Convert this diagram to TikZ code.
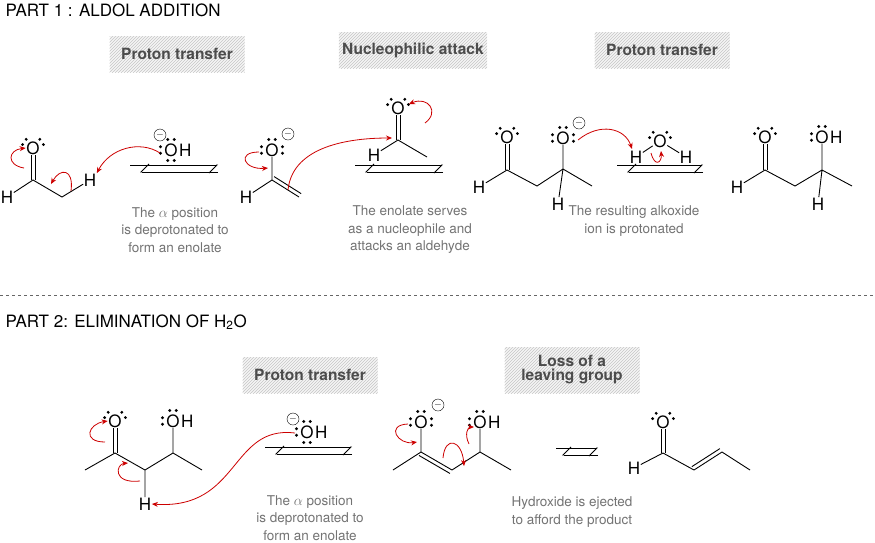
\documentclass[tikz,border=0pt]{standalone}
\usepackage{fontspec}
\setmainfont{TeX Gyre Heros}
\usetikzlibrary{arrows.meta,calc,patterns}
\tikzset{
    atom/.style={inner sep=0.5pt,font=\fontsize{17}{19}\selectfont},
    bond/.style={line width=0.9pt},
    mech/.style={->,>={Stealth[length=6pt,width=5pt]},red!80!black,line width=0.8pt},
    eqtop/.style={-{Straight Barb[right,length=8pt]},line width=0.9pt},
    minus/.style={circle,draw,inner sep=0pt,minimum size=12pt,font=\fontsize{10}{10}\selectfont},
    step label/.style={font=\bfseries\fontsize{15.5}{17}\selectfont,text=black!70,align=center,minimum width=135pt,minimum height=36pt,
        preaction={fill=gray!8},pattern=north east lines,pattern color=gray!45},
    note/.style={font=\fontsize{13.5}{17.5}\selectfont,text=black!55,align=center},
    title/.style={font=\fontsize{17}{19}\selectfont,anchor=west},
}
\newcommand\lp[2]{\fill ($(#1)+(#2+17:11)$) circle (1.6) ($(#1)+(#2-17:11)$) circle (1.6);}
\newcommand\dbond[3]{\draw[bond] (#1) -- (#2); \draw[bond] ($(#1)!#3!90:(#2)$) -- ($(#2)!#3!-90:(#1)$);}

\begin{document}
\begin{tikzpicture}[x=1pt,y=-1pt]
    \useasboundingbox (0,0) rectangle (875,542);
    % headings
    \node[title] (t1) at (2,10) {PART 1 : ALDOL ADDITION};
    \node[title] (t2) at (2,322) {PART 2: ELIMINATION OF H\textsubscript{2}O};
    \draw[dashed,line width=0.9pt,black!60] (0,295) -- (875,295);
    \node[step label] (s1) at (177,54) {Proton transfer};
    \node[step label] (s2) at (413,50) {Nucleophilic attack};
    \node[step label] (s3) at (662,50) {Proton transfer};
    \node[step label] (s4) at (310,375) {Proton transfer};
    \node[step label,minimum height=46pt] (s5) at (572,370) {Loss of a\\[-3pt]leaving group};

    % acetaldehyde
    \node[atom] (a1o) at (33,148) {O};
    \coordinate (a1c) at (33,180);
    \node[atom] (a1h) at (7,197) {H};
    \coordinate (a1m) at (62,197);
    \node[atom] (a1x) at (90,180) {H};
    \draw[bond] ($(a1o.south)+(-2,0)$) -- ($(a1c)+(-2,0)$) ($(a1o.south)+(2,0)$) -- ($(a1c)+(2,0)$);
    \draw[bond] (a1h) -- (a1c) -- (a1m) -- (a1x);
    \lp{a1o}{-145} \lp{a1o}{-35}
    \draw[mech] (24,168) .. controls (6,165) and (8,150) .. (a1o.west);
    \draw[mech] (71,191) .. controls (74,168) and (60,168) .. (51,184);
    % hydroxide
    \node[atom] (oh1) at (171,150) {O};
    \node[atom,anchor=west] (oh1h) at (oh1.east) {H};
    \node[minus] (m1) at (160,135) {$-$};
    \lp{oh1}{180} \lp{oh1}{90} \lp{oh1}{-90}
    \draw[mech] (160,153) .. controls (140,140) and (110,148) .. (a1x.north east);
    \draw[eqtop] (130,165) -- (218,165);
    \draw[eqtop] (218,172) -- (140,172);

    % enolate
    \node[atom] (a2o) at (272,150) {O};
    \coordinate (a2c) at (272,180);
    \node[atom] (a2h) at (246,197) {H};
    \coordinate (a2m) at (299,197);
    \node[minus] (m2) at (288,134) {$-$};
    \draw[bond] (a2o) -- (a2c) (a2h) -- (a2c);
    \dbond{a2c}{a2m}{4pt}
    \lp{a2o}{180} \lp{a2o}{-90} \lp{a2o}{0}
    \draw[mech] (259,152) .. controls (236,152) and (244,170) .. (268,168);
    \draw[mech] (288,190) .. controls (292,150) and (340,138) .. (392,138);
    % aldehyde
    \node[atom] (a3o) at (398,108) {O};
    \coordinate (a3c) at (398,140);
    \node[atom] (a3h) at (374,155) {H};
    \coordinate (a3m) at (427,157);
    \draw[bond] ($(a3o.south)+(-2,0)$) -- ($(a3c)+(-2,0)$) ($(a3o.south)+(2,0)$) -- ($(a3c)+(2,0)$);
    \draw[bond] (a3h) -- (a3c) -- (a3m);
    \lp{a3o}{-145} \lp{a3o}{-35}
    \draw[mech] (425,123) .. controls (440,112) and (428,96) .. (409,104);
    \draw[eqtop] (355,165) -- (443,165);
    \draw[eqtop] (443,172) -- (365,172);

    % alkoxide
    \node[atom] (b1o) at (507,137) {O};
    \coordinate (b1c) at (507,170);
    \node[atom] (b1h) at (479,187) {H};
    \coordinate (b1m) at (537,186);
    \coordinate (b1d) at (563,169);
    \node[atom] (b1p) at (563,138) {O};
    \coordinate (b1e) at (592,186);
    \node[atom] (b1q) at (558,204) {H};
    \node[minus] (m3) at (579,123) {$-$};
    \draw[bond] ($(b1o.south)+(-2,0)$) -- ($(b1c)+(-2,0)$) ($(b1o.south)+(2,0)$) -- ($(b1c)+(2,0)$);
    \draw[bond] (b1h) -- (b1c) -- (b1m) -- (b1d) -- (b1e) (b1d) -- (b1p) (b1d) -- (b1q);
    \lp{b1o}{-145} \lp{b1o}{-35}
    \lp{b1p}{180} \lp{b1p}{-90} \lp{b1p}{0}
    \draw[mech] (578,140) .. controls (600,122) and (625,128) .. (632,149);
    % water
    \node[atom] (w1o) at (660,141) {O};
    \node[atom] (w1h) at (636,157) {H};
    \node[atom] (w1k) at (686,157) {H};
    \draw[bond] (w1h) -- (w1o) -- (w1k);
    \lp{w1o}{-145} \lp{w1o}{-35}
    \draw[mech] (651,153) .. controls (655,168) and (662,162) .. (661,151);
    \draw[eqtop] (617,165) -- (703,165);
    \draw[eqtop] (703,172) -- (627,172);

    % alcohol
    \node[atom] (c1o) at (765,137) {O};
    \coordinate (c1c) at (765,170);
    \node[atom] (c1h) at (737,187) {H};
    \coordinate (c1m) at (795,186);
    \coordinate (c1d) at (822,170);
    \node[atom] (c1p) at (822,137) {O};
    \node[atom,anchor=west] (c1r) at (c1p.east) {H};
    \coordinate (c1e) at (852,186);
    \node[atom] (c1q) at (818,204) {H};
    \draw[bond] ($(c1o.south)+(-2,0)$) -- ($(c1c)+(-2,0)$) ($(c1o.south)+(2,0)$) -- ($(c1c)+(2,0)$);
    \draw[bond] (c1h) -- (c1c) -- (c1m) -- (c1d) -- (c1e) (c1d) -- (c1p) (c1d) -- (c1q);
    \lp{c1o}{-145} \lp{c1o}{-35}
    \lp{c1p}{180} \lp{c1p}{-90}

    \node[note] (n1) at (175,230) {The $\alpha$ position\\is deprotonated to\\form an enolate};
    \node[note] (n2) at (410,230) {The enolate serves\\as a nucleophile and\\attacks an aldehyde};
    \node[note] (n3) at (634,221) {The resulting alkoxide\\ion is protonated};

    % part 2: aldol
    \node[atom] (d1o) at (115,421) {O};
    \coordinate (d1c) at (115,453);
    \coordinate (d1a) at (85,470);
    \coordinate (d1m) at (145,470);
    \node[atom] (d1h) at (145,504) {H};
    \coordinate (d1d) at (173,453);
    \node[atom] (d1p) at (173,421) {O};
    \node[atom,anchor=west] (d1r) at (d1p.east) {H};
    \coordinate (d1e) at (202,470);
    \draw[bond] ($(d1o.south)+(-2,0)$) -- ($(d1c)+(-2,0)$) ($(d1o.south)+(2,0)$) -- ($(d1c)+(2,0)$);
    \draw[bond] (d1a) -- (d1c) -- (d1m) -- (d1d) -- (d1e) (d1d) -- (d1p) (d1m) -- (d1h);
    \lp{d1o}{-145} \lp{d1o}{-35}
    \lp{d1p}{180} \lp{d1p}{-90}
    \draw[mech] (105,442) .. controls (82,442) and (88,424) .. (d1o.west);
    \draw[mech] (140,481) .. controls (112,484) and (116,464) .. (128,463);
    % hydroxide
    \node[atom] (oh2) at (307,432) {O};
    \node[atom,anchor=west] (oh2h) at (oh2.east) {H};
    \node[minus] (m4) at (293,419) {$-$};
    \lp{oh2}{180} \lp{oh2}{90} \lp{oh2}{-90}
    \draw[mech] (295,433) .. controls (230,425) and (240,510) .. (d1h.east);
    \draw[eqtop] (265,447) -- (352,447);
    \draw[eqtop] (352,454) -- (275,454);

    % enolate 2
    \node[atom] (e1o) at (421,422) {O};
    \coordinate (e1c) at (421,452);
    \coordinate (e1a) at (393,470);
    \coordinate (e1m) at (452,470);
    \coordinate (e1d) at (480,452);
    \node[atom] (e1p) at (480,422) {O};
    \node[atom,anchor=west] (e1r) at (e1p.east) {H};
    \coordinate (e1e) at (511,470);
    \node[minus] (m5) at (438,405) {$-$};
    \draw[bond] (e1o) -- (e1c) (e1a) -- (e1c) (e1m) -- (e1d) -- (e1e) (e1d) -- (e1p);
    \dbond{e1m}{e1c}{4pt}
    \lp{e1o}{180} \lp{e1o}{-90} \lp{e1o}{0}
    \lp{e1p}{180} \lp{e1p}{-90}
    \draw[mech] (408,424) .. controls (385,425) and (398,445) .. (417,442);
    \draw[mech] (443,458) .. controls (445,435) and (462,440) .. (464,466);
    \draw[mech] (469,444) .. controls (464,434) and (468,427) .. (474,427);
    \draw[eqtop] (556,448) -- (598,448);
    \draw[eqtop] (598,455) -- (562,455);
    % crotonaldehyde
    \node[atom] (f1o) at (663,422) {O};
    \coordinate (f1c) at (663,453);
    \node[atom] (f1h) at (634,468) {H};
    \coordinate (f1m) at (694,470);
    \coordinate (f1d) at (722,452);
    \coordinate (f1e) at (750,470);
    \draw[bond] ($(f1o.south)+(-2,0)$) -- ($(f1c)+(-2,0)$) ($(f1o.south)+(2,0)$) -- ($(f1c)+(2,0)$);
    \draw[bond] (f1h) -- (f1c) -- (f1m) (f1d) -- (f1e);
    \dbond{f1m}{f1d}{4pt}
    \lp{f1o}{-145} \lp{f1o}{-35}

    \node[note] (n4) at (310,518) {The $\alpha$ position\\is deprotonated to\\form an enolate};
    \node[note] (n5) at (572,512) {Hydroxide is ejected\\to afford the product};
\end{tikzpicture}
\end{document}
